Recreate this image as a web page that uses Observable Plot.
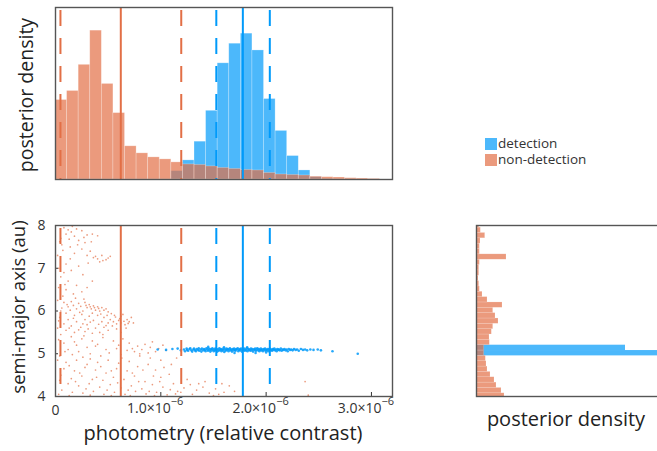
<!DOCTYPE html>
<html><head><meta charset="utf-8">
<script src="https://cdn.jsdelivr.net/npm/d3@7"></script>
<script src="https://cdn.jsdelivr.net/npm/@observablehq/plot@0.6"></script>
<style>
body{margin:0;overflow:hidden;background:#fff;font-family:"Open Sans",sans-serif;}
#wrap{position:relative;width:657px;height:451px;overflow:hidden;}
#wrap svg text{font-family:"Open Sans",sans-serif;fill:#333;}
.panel{position:absolute;}
.lbl{position:absolute;color:#222;white-space:nowrap;line-height:1;}
.rot{transform:translate(-50%,-50%) rotate(-90deg);}
.hor{transform:translate(-50%,-50%);}
.leg{position:absolute;font-size:13.5px;color:#333;line-height:13px;height:13px;white-space:nowrap;}
.sw{display:inline-block;width:12px;height:12px;vertical-align:top;margin-top:1px;margin-right:1px;}
</style></head><body><div id="wrap"></div>
<script>
// ---------- data ----------
const UNIT = 1e-6;                 // photometry unit
const xDomain = [0, 3.2];          // ×1e-6
const yDomain = [4, 8];            // au
const binWidth = 0.11;             // ×1e-6, top histogram
const seriesNames = ["detection", "non-detection"];
const BLUE = "#009AFA", ORANGE = "#E26F46";

// top histogram (relative posterior density), non-detection from bin 0, detection from bin 10
const nondetTop = [79, 88, 114, 148, 95, 66, 33, 26, 22, 20, 17, 15, 14.5, 13, 11.5, 10.5, 9.5, 9, 6.5, 5, 4.5, 4, 2.8, 2.3, 2, 1.3, 1, 0.6];
const detTopStart = 10;
const detTop = [8.3, 19, 37.6, 68.3, 115.5, 135, 145, 128.3, 80, 48.3, 23.3, 9, 2.3, 0.5];

// credible interval lines (×1e-6): [low, median, high]
const nondetLines = [0.047, 0.62, 1.194];
const detLines = [1.527, 1.779, 2.035];

// right histogram (semi-major axis), bins of 0.125 au starting at 3.95
const aBinStart = 3.95, aBinWidth = 0.125;
const nondetSide = [28, 25, 20, 18, 14, 11, 10, 9.3, 7.7, 7.7, 13.3, 13, 15.3, 16.7, 22, 19, 16.7, 26, 11, 6, 3.3, 2.7, 2, 2.7, 2.7, 3.3, 30, 3.3, 3.3, 4, 8.7, 4.3, 2.7];
const detSideBins = [8, 9];
const detSide = [240, 149];

// ticks
const xTicks = [0, 1, 2, 3];
const xTickMantissa = ["0", "1.0×10", "2.0×10", "3.0×10"];
const xTickExponent = ["", "−6", "−6", "−6"];
const yTicks = [4, 5, 6, 7, 8];

// scatter: non-detection [photometry ×1e-6, a (au)]
const nondetPts = [
[0.08,7.95],[0.12,7.9],[0.15,7.85],[0.2,7.92],[0.25,7.88],[0.1,7.8],[0.18,7.75],[0.3,7.78],[0.35,7.8],[0.4,7.76],[0.22,7.65],[0.28,7.6],[0.06,7.55],[0.14,7.5],[0.25,7.45],[0.33,7.4],[0.18,7.35],[0.3,7.3],[0.36,7.25],[0.4,7.22],[0.44,7.3],[0.48,7.2],[0.42,7.15],[0.38,7.28],[0.5,7.24],[0.05,7.7],[0.02,7.3],[0.1,7.1],[0.22,7.05],[0.08,6.9],
[0.03,7.0],[0.15,6.95],[0.05,6.8],[0.12,6.7],[0.2,6.6],[0.1,6.5],[0.25,6.45],[0.03,6.55],[0.3,6.55],[0.17,6.4],
[0.02,6.25],[0.08,6.2],[0.15,6.22],[0.22,6.18],[0.28,6.2],[0.32,6.15],[0.36,6.12],[0.4,6.1],[0.44,6.08],[0.48,6.05],[0.3,6.08],[0.34,6.05],[0.38,6.02],[0.42,6.0],[0.26,6.0],[0.2,6.05],[0.12,6.1],[0.05,6.0],[0.1,5.95],[0.18,5.9],[0.25,5.92],[0.32,5.88],[0.4,5.9],[0.46,5.85],[0.52,5.8],[0.55,5.75],[0.58,5.7],[0.6,5.78],[0.5,5.72],[0.44,5.75],[0.36,5.78],[0.28,5.8],[0.2,5.75],[0.12,5.8],[0.04,5.85],[0.08,5.7],[0.15,5.65],[0.24,5.62],[0.3,5.68],[0.38,5.6],[0.46,5.62],[0.54,5.65],[0.62,5.72],[0.66,5.68],[0.7,5.75],[0.02,5.6],[0.1,5.55],[0.18,5.5],[0.28,5.52],[0.35,5.48],[0.42,5.5],[0.5,5.55],[0.58,5.58],[0.62,5.88],[0.64,5.92],[0.68,5.8],[0.72,5.85],
[0.05,5.45],[0.15,5.4],[0.25,5.35],[0.35,5.3],[0.45,5.38],[0.08,5.25],[0.2,5.2],[0.3,5.15],[0.4,5.22],[0.55,5.3],[0.12,5.1],[0.22,5.05],[0.33,5.0],[0.48,5.1],[0.04,4.95],[0.16,4.98],[0.6,5.2],[0.7,5.25],[0.78,5.18],[0.85,5.22],[0.92,5.28],[0.68,5.08],[0.75,5.05],[0.82,5.1],[0.88,5.02],[0.98,5.12],[1.02,5.2],[0.62,4.98],[0.58,5.12],
[0.02,4.85],[0.1,4.8],[0.2,4.85],[0.3,4.75],[0.4,4.8],[0.5,4.85],[0.6,4.78],[0.7,4.82],[0.08,4.65],[0.18,4.6],[0.28,4.68],[0.38,4.62],[0.48,4.55],[0.58,4.65],[0.68,4.6],[0.78,4.7],[0.88,4.75],[0.95,4.62],[0.05,4.5],[0.15,4.42],[0.25,4.48],[0.35,4.4],[0.45,4.38],[0.55,4.45],[0.65,4.4],[0.75,4.48],[0.85,4.35],[1.0,4.45],[1.08,4.52],[0.12,4.3],[0.22,4.25],[0.32,4.3],[0.42,4.22],[0.52,4.28],[0.62,4.2],[0.72,4.25],[0.82,4.18],[0.92,4.28],[1.02,4.22],[1.12,4.3],[0.06,4.15],[0.16,4.1],[0.26,4.08],[0.36,4.12],[0.46,4.05],[0.56,4.1],[0.66,4.05],[0.76,4.12],[0.86,4.06],[0.96,4.1],[1.06,4.04],[1.16,4.12],[1.22,4.2],[1.28,4.28],[1.34,4.15],[1.4,4.22],[1.46,4.08],[1.52,4.18],[1.58,4.3],[1.3,4.05],[1.42,4.35],[1.5,4.02],[1.6,4.1],[1.7,4.12],[2.37,4.35],[2.4,4.03],[1.25,4.4],[0.9,4.9],[1.1,4.75],[1.0,4.85],
[0.04,7.62],[0.13,7.68],[0.27,7.72],[0.16,7.98],[0.07,7.42],[0.21,7.55],[0.34,7.62],[0.45,7.18],[0.52,7.28],[0.31,7.12],[0.14,7.22],[0.26,6.85],[0.09,6.62],[0.35,6.7],[0.19,6.3],[0.07,6.35],[0.27,6.28],
[0.11,6.15],[0.17,6.13],[0.24,6.11],[0.29,6.13],[0.33,6.1],[0.37,6.08],[0.41,6.06],[0.46,6.02],[0.5,5.98],[0.53,5.94],[0.57,5.86],[0.61,5.82],[0.65,5.76],[0.69,5.71],[0.74,5.72],[0.06,6.07],[0.14,6.02],[0.23,5.97],[0.35,5.95],[0.43,5.93],[0.49,5.9],[0.56,5.9],[0.03,5.77],[0.17,5.83],[0.26,5.7],[0.33,5.74],[0.41,5.69],[0.48,5.66],[0.22,5.56],[0.13,5.6],[0.31,5.58],[0.45,5.45],[0.62,5.5],[0.67,5.6],
[0.03,5.33],[0.18,5.28],[0.27,5.42],[0.38,5.18],[0.51,5.02],[0.64,5.35],[0.73,5.12],[0.8,5.0],[0.9,5.15],[0.95,5.05],[1.05,5.08],[0.43,4.95],[0.26,4.92],[0.09,5.05],
[0.13,4.72],[0.23,4.55],[0.33,4.88],[0.43,4.7],[0.53,4.6],[0.63,4.9],[0.73,4.55],[0.83,4.62],[0.93,4.48],[1.03,4.68],[0.04,4.38],[0.19,4.35],[0.29,4.18],[0.39,4.45],[0.49,4.15],[0.59,4.32],[0.69,4.15],[0.79,4.35],[0.89,4.12],[0.99,4.35],[1.09,4.16],[1.14,4.06],[0.03,4.05],[0.13,4.02],[0.33,4.03],[0.53,4.02],[0.71,4.02],[0.94,4.02],[1.19,4.1],[1.36,4.3],[1.55,4.05],[1.65,4.25],[0.8,4.95],[1.15,4.9]
];

// scatter: detection
const detPts = [
[0.97,5.10],[1.05,5.09],[1.11,5.11],[1.16,5.12],[1.19,5.08],[1.22,5.10],[1.23,5.06],[1.245,5.12],[1.25,5.09],[1.26,5.07],[1.272,5.11],[1.28,5.13],[1.29,5.08],[1.298,5.05],[1.31,5.10],[1.315,5.12],[1.325,5.08],[1.333,5.06],[1.34,5.11],[1.352,5.09],[1.36,5.13],[1.365,5.07],[1.378,5.10],[1.385,5.05],[1.39,5.12],[1.402,5.08],[1.41,5.11],[1.418,5.09],[1.425,5.06],[1.433,5.13],[1.44,5.10],[1.448,5.07],[1.455,5.12],[1.462,5.09],[1.47,5.05],[1.476,5.11],[1.483,5.08],[1.49,5.13],[1.497,5.10],[1.503,5.06],[1.51,5.09],[1.517,5.12],[1.524,5.08],[1.53,5.11],[1.536,5.05],[1.543,5.10],[1.55,5.07],[1.556,5.13],[1.563,5.09],[1.57,5.11],[1.576,5.06],[1.583,5.10],[1.59,5.08],[1.596,5.12],[1.603,5.04],[1.61,5.10],[1.616,5.07],[1.623,5.12],[1.63,5.09],[1.636,5.11],[1.643,5.06],[1.65,5.10],[1.656,5.13],[1.663,5.08],[1.67,5.10],[1.676,5.05],[1.683,5.11],[1.69,5.08],[1.696,5.12],[1.703,5.09],[1.71,5.07],[1.716,5.11],[1.723,5.10],[1.73,5.13],[1.736,5.06],[1.743,5.09],[1.75,5.11],[1.756,5.08],[1.763,5.12],[1.77,5.05],[1.776,5.10],[1.783,5.09],[1.79,5.12],[1.796,5.07],[1.803,5.10],[1.81,5.08],[1.816,5.13],[1.823,5.06],[1.83,5.11],[1.836,5.09],[1.843,5.10],[1.85,5.07],[1.856,5.12],[1.863,5.08],[1.87,5.11],[1.876,5.05],[1.883,5.10],[1.89,5.09],[1.896,5.12],[1.903,5.07],[1.91,5.10],[1.916,5.13],[1.923,5.08],[1.93,5.11],[1.936,5.06],[1.943,5.09],[1.95,5.12],[1.956,5.08],[1.963,5.10],[1.97,5.06],[1.976,5.11],[1.983,5.09],[1.99,5.12],[1.996,5.07],[2.003,5.10],[2.01,5.08],[2.016,5.11],[2.023,5.06],[2.03,5.10],[2.036,5.12],[2.043,5.08],[2.05,5.10],[2.057,5.07],[2.064,5.11],[2.07,5.09],[2.078,5.12],[2.085,5.08],[2.092,5.10],[2.1,5.06],[2.108,5.11],[2.115,5.09],[2.123,5.10],[2.13,5.08],[2.14,5.12],[2.148,5.07],[2.157,5.10],[2.165,5.09],[2.175,5.11],[2.185,5.08],[2.195,5.10],[2.205,5.06],[2.215,5.11],[2.228,5.09],[2.24,5.10],[2.252,5.08],[2.265,5.11],[2.28,5.09],[2.295,5.10],[2.31,5.07],[2.33,5.11],[2.35,5.09],[2.37,5.10],[2.39,5.08],[2.42,5.10],[2.45,5.09],[2.49,5.10],[2.52,5.08],[2.63,5.06],[2.87,5.00],
[1.45,5.16],[1.7,5.02],[1.82,5.15],[2.0,5.03],[1.6,5.15],[1.9,5.02]
];

// ---------- build ----------
const wrap = document.getElementById("wrap");

const nondetBins = nondetTop.map((h, i) => ({x1: i * binWidth * UNIT, x2: (i + 1) * binWidth * UNIT, h}));
const detBins = detTop.map((h, i) => ({x1: (i + detTopStart) * binWidth * UNIT, x2: (i + detTopStart + 1) * binWidth * UNIT, h}));
const lineData = [
  ...nondetLines.map((v, i) => ({v: v * UNIT, s: seriesNames[1], dashed: i !== 1})),
  ...detLines.map((v, i) => ({v: v * UNIT, s: seriesNames[0], dashed: i !== 1}))
];
const xd = xDomain.map(v => v * UNIT);
const colorOf = s => s === seriesNames[0] ? BLUE : ORANGE;
const DASH = "16,12";
const lineMarks = [
  Plot.ruleX(lineData.filter(d => !d.dashed), {x: "v", stroke: d => colorOf(d.s), strokeWidth: 2}),
  Plot.ruleX(lineData.filter(d => d.dashed), {x: "v", stroke: d => colorOf(d.s), strokeWidth: 2, strokeDasharray: DASH, strokeDashoffset: -3})
];
const frameMark = Plot.frame({stroke: "#555", strokeWidth: 1.4});
const style = {fontFamily: "'Open Sans', sans-serif", color: "#333", background: "transparent", overflow: "visible"};

function place(svg, left, top) {
  svg.classList.add("panel");
  svg.style.left = left + "px";
  svg.style.top = top + "px";
  wrap.appendChild(svg);
}

// top histogram
const topPlot = Plot.plot({
  width: 400, height: 190, marginLeft: 55, marginRight: 8, marginTop: 7, marginBottom: 11,
  style,
  x: {domain: xd, axis: null},
  y: {domain: [0, 171], axis: null},
  marks: [
    Plot.rectY(detBins, {x1: "x1", x2: "x2", y: "h", fill: BLUE, fillOpacity: 0.7, stroke: "#fff", strokeOpacity: 0.35, strokeWidth: 0.7}),
    Plot.rectY(nondetBins, {x1: "x1", x2: "x2", y: "h", fill: ORANGE, fillOpacity: 0.7, stroke: "#fff", strokeOpacity: 0.35, strokeWidth: 0.7}),
    ...lineMarks,
    frameMark
  ]
});
place(topPlot, 0, 0);

// scatter
const xTickData = xTicks.map((v, i) => ({x: v * UNIT, m: xTickMantissa[i], e: xTickExponent[i]}));
const sciTicks = xTickData.filter(d => d.e);
const plainTicks = xTickData.filter(d => !d.e);
const scatter = Plot.plot({
  width: 400, height: 211, marginLeft: 55, marginRight: 8, marginTop: 10, marginBottom: 30,
  style,
  x: {domain: xd},
  y: {domain: yDomain},
  marks: [
    Plot.dot(nondetPts, {x: d => d[0] * UNIT, y: d => d[1], r: 0.85, fill: ORANGE, fillOpacity: 0.7, stroke: "none"}),
    Plot.dot(detPts, {x: d => d[0] * UNIT, y: d => d[1], r: 1.3, fill: BLUE, fillOpacity: 0.85, stroke: "none"}),
    ...lineMarks,
    Plot.axisX(xTicks.map(v => v * UNIT), {tickSize: -4, tickFormat: () => "", label: null}),
    Plot.axisY(yTicks, {tickSize: -3, tickFormat: () => "", label: null}),
    // x tick labels: mantissa + raised exponent
    Plot.text(plainTicks, {x: "x", y: () => yDomain[0], text: "m", textAnchor: "middle", dy: 14, fontSize: 14, fill: "#333"}),
    Plot.text(sciTicks, {x: "x", y: () => yDomain[0], text: "m", textAnchor: "end", dx: 10, dy: 12, fontSize: 14, fill: "#333"}),
    Plot.text(sciTicks, {x: "x", y: () => yDomain[0], text: "e", textAnchor: "start", dx: 10, dy: 5, fontSize: 11, fill: "#333"}),
    // y tick labels
    Plot.text(yTicks, {x: () => xd[0], y: d => d, text: d => String(d), textAnchor: "end", dx: -10, fontSize: 14, fill: "#333"}),
    frameMark
  ]
});
place(scatter, 0, 215);

// right histogram
const sideNondet = nondetSide.map((len, k) => ({y1: aBinStart + k * aBinWidth, y2: aBinStart + (k + 1) * aBinWidth, len}));
const sideDet = detSide.map((len, i) => ({y1: aBinStart + detSideBins[i] * aBinWidth, y2: aBinStart + (detSideBins[i] + 1) * aBinWidth, len}));
const side = Plot.plot({
  width: 330, height: 211, marginLeft: 56, marginRight: 10, marginTop: 10, marginBottom: 30,
  style,
  x: {domain: [0, 264], axis: null},
  y: {domain: yDomain, axis: null},
  marks: [
    Plot.rectX(sideDet, {y1: "y1", y2: "y2", x: "len", fill: BLUE, fillOpacity: 0.7, clip: true}),
    Plot.rectX(sideNondet, {y1: "y1", y2: "y2", x: "len", fill: ORANGE, fillOpacity: 0.7, stroke: "#fff", strokeOpacity: 0.3, strokeWidth: 0.5, clip: true}),
    frameMark
  ]
});
place(side, 420, 215);

// labels
function label(text, x, y, cls, size) {
  const d = document.createElement("div");
  d.className = "lbl " + cls;
  d.textContent = text;
  d.style.left = x + "px"; d.style.top = y + "px";
  d.style.fontSize = size + "px";
  wrap.appendChild(d);
}
label("posterior density", 26, 95, "rot", 19.5);
label("semi-major axis (au)", 18, 307, "rot", 18.5);
label("photometry (relative contrast)", 223, 433, "hor", 20);
label("posterior density", 566, 419, "hor", 20);

// legend
const legendColors = ["rgba(0,154,250,0.7)", "rgba(226,111,70,0.7)"];
seriesNames.forEach((s, i) => {
  const d = document.createElement("div");
  d.className = "leg";
  d.style.left = "485px"; d.style.top = (137 + i * 15.5) + "px";
  d.innerHTML = `<span class="sw" style="background:${legendColors[i]}"></span>${s}`;
  wrap.appendChild(d);
});
</script>
</body></html>
